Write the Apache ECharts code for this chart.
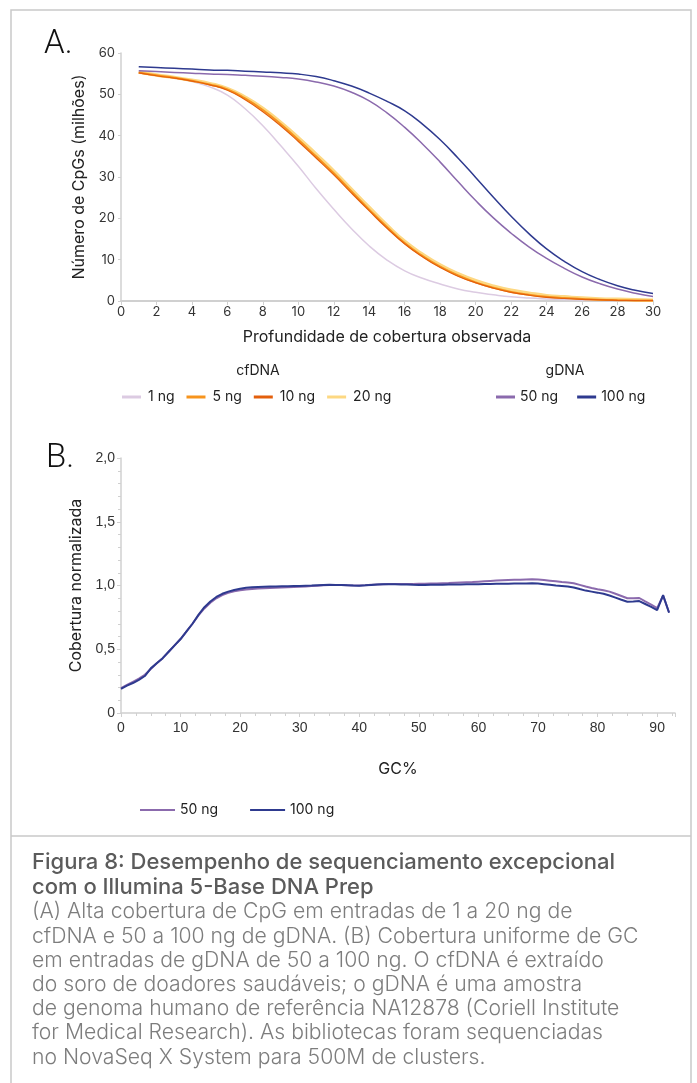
<!DOCTYPE html>
<html>
<head>
<meta charset="utf-8">
<script src="https://cdn.jsdelivr.net/npm/echarts@6/dist/echarts.min.js"></script>
<style>
  html, body { margin: 0; padding: 0; background: #fff; }
  #main { width: 697px; height: 1083px; }
</style>
</head>
<body>
<div id="main"></div>
<script>
// --- painel A: CpGs cobertos vs profundidade observada ---
var depth = [1, 2, 3, 4, 5, 6, 7, 8, 9, 10, 11, 12, 13, 14, 15, 16, 17, 18, 19, 20, 21, 22, 23, 24, 25, 26, 27, 28, 29, 30];
var cf1ng = [55.3, 54.5, 53.9, 53.1, 51.8, 49.8, 46.5, 42.4, 37.6, 32.6, 27.2, 22.2, 17.5, 13.3, 9.9, 7.3, 5.5, 4.1, 2.9, 2.1, 1.5, 1.0, 0.7, 0.5, 0.35, 0.25, 0.17, 0.12, 0.08, 0.05];
var cf5ng = [55.3, 54.6, 54.0, 53.3, 52.4, 51.2, 49.0, 46.2, 42.8, 39.0, 35.0, 30.9, 26.5, 22.1, 17.9, 14.0, 10.9, 8.3, 6.2, 4.5, 3.2, 2.2, 1.5, 1.0, 0.7, 0.5, 0.3, 0.2, 0.15, 0.1];
var cf10ng = [55.2, 54.5, 53.9, 53.2, 52.3, 51.0, 48.7, 45.8, 42.4, 38.6, 34.6, 30.5, 26.1, 21.8, 17.6, 13.8, 10.7, 8.1, 6.0, 4.4, 3.1, 2.1, 1.4, 0.9, 0.6, 0.4, 0.25, 0.15, 0.1, 0.08];
var cf20ng = [55.4, 54.7, 54.1, 53.4, 52.6, 51.4, 49.3, 46.6, 43.2, 39.5, 35.5, 31.4, 27.0, 22.6, 18.3, 14.4, 11.3, 8.7, 6.6, 4.9, 3.6, 2.6, 1.9, 1.3, 1.0, 0.7, 0.5, 0.4, 0.3, 0.2];
var g50ng = [55.7, 55.5, 55.3, 55.1, 54.9, 54.8, 54.6, 54.4, 54.1, 53.7, 53.0, 52.0, 50.5, 48.4, 45.5, 42.0, 38.0, 33.6, 28.9, 24.3, 20.1, 16.4, 13.1, 10.3, 7.9, 5.8, 4.2, 2.9, 1.9, 1.1];
var g100ng = [56.7, 56.5, 56.3, 56.1, 55.9, 55.8, 55.6, 55.4, 55.2, 54.9, 54.3, 53.3, 52.0, 50.3, 48.3, 46.0, 42.8, 39.0, 34.6, 29.9, 25.1, 20.5, 16.3, 12.6, 9.6, 7.1, 5.2, 3.7, 2.6, 1.8];
var depthTicks = [0, 2, 4, 6, 8, 10, 12, 14, 16, 18, 20, 22, 24, 26, 28, 30];
var cpgTicks = [0, 10, 20, 30, 40, 50, 60];

// --- painel B: cobertura normalizada vs GC% (0..92) ---
var cov50ng = [0.195, 0.22, 0.245, 0.27, 0.30, 0.345, 0.39, 0.43, 0.48, 0.53,
  0.58, 0.64, 0.70, 0.765, 0.82, 0.865, 0.90, 0.925, 0.942, 0.954,
  0.963, 0.969, 0.973, 0.976, 0.978, 0.98, 0.982, 0.984, 0.986, 0.988,
  0.99, 0.993, 0.996, 0.999, 1.002, 1.004, 1.004, 1.003, 1.001, 1.0,
  1.0, 1.002, 1.005, 1.008, 1.01, 1.012, 1.012, 1.011, 1.011, 1.012,
  1.013, 1.014, 1.015, 1.016, 1.018, 1.019, 1.021, 1.023, 1.025, 1.027,
  1.03, 1.033, 1.036, 1.039, 1.042, 1.044, 1.045, 1.046, 1.048, 1.049,
  1.047, 1.043, 1.038, 1.033, 1.028, 1.024, 1.018, 1.005, 0.992, 0.98,
  0.97, 0.962, 0.952, 0.935, 0.918, 0.90, 0.90, 0.902, 0.875, 0.85,
  0.822, 0.92, 0.79];
var cov100ng = [0.19, 0.215, 0.235, 0.26, 0.29, 0.35, 0.39, 0.43, 0.48, 0.53,
  0.58, 0.64, 0.70, 0.77, 0.83, 0.875, 0.91, 0.935, 0.952, 0.965,
  0.975, 0.982, 0.986, 0.989, 0.991, 0.992, 0.993, 0.994, 0.995, 0.996,
  0.997, 0.999, 1.0, 1.002, 1.004, 1.005, 1.004, 1.004, 1.002, 1.0,
  0.999, 1.001, 1.004, 1.007, 1.009, 1.01, 1.01, 1.008, 1.007, 1.005,
  1.004, 1.004, 1.005, 1.006, 1.006, 1.007, 1.008, 1.008, 1.009, 1.009,
  1.01, 1.011, 1.012, 1.013, 1.014, 1.014, 1.015, 1.015, 1.016, 1.017,
  1.015, 1.01, 1.005, 1.0, 0.996, 0.992, 0.985, 0.972, 0.96, 0.952,
  0.944, 0.935, 0.922, 0.905, 0.888, 0.873, 0.874, 0.878, 0.855, 0.832,
  0.807, 0.925, 0.786];
var covTicks = ['0', '0,5', '1,0', '1,5', '2,0'];

var captionTitle = ['Figura 8: Desempenho de sequenciamento excepcional', 'com o Illumina 5-Base DNA Prep'];
var captionBody = [
  '(A) Alta cobertura de CpG em entradas de 1 a 20 ng de',
  'cfDNA e 50 a 100 ng de gDNA. (B) Cobertura uniforme de GC',
  'em entradas de gDNA de 50 a 100 ng. O cfDNA é extraído',
  'do soro de doadores saudáveis; o gDNA é uma amostra',
  'de genoma humano de referência NA12878 (Coriell Institute',
  'for Medical Research). As bibliotecas foram sequenciadas',
  'no NovaSeq X System para 500M de clusters.'
];

function pairs(xs, ys) {
  var out = [];
  for (var i = 0; i < ys.length; i++) out.push([xs[i], ys[i]]);
  return out;
}
var gc = [];
for (var i = 0; i < cov50ng.length; i++) gc.push(i);

var font = 'Inter, "Noto Sans", sans-serif';
var axisGray = '#d0d0d0';

var chart = echarts.init(document.getElementById('main'), null, { renderer: 'canvas' });

var graphics = [
  // moldura
  { type: 'polyline', shape: { points: [[11, 1083], [11, 10], [691, 10], [691, 1083]] }, style: { stroke: '#c9c9c9', lineWidth: 1.5, fill: null } },
  { type: 'line', shape: { x1: 11, y1: 836, x2: 691, y2: 836 }, style: { stroke: '#c9c9c9', lineWidth: 1.5 } },
  { type: 'text', left: 44, top: 28, style: { text: 'A.', font: '300 33px Roboto, sans-serif', fill: '#111' } },
  { type: 'text', left: 46, top: 442, style: { text: 'B.', font: '300 33px Roboto, sans-serif', fill: '#111' } },
  { type: 'text', x: 258, y: 371, style: { text: 'cfDNA', font: '14px ' + font, fill: '#222', align: 'center', verticalAlign: 'middle' } },
  { type: 'text', x: 565, y: 371, style: { text: 'gDNA', font: '14px ' + font, fill: '#222', align: 'center', verticalAlign: 'middle' } }
];
captionTitle.forEach(function (t, k) {
  graphics.push({ type: 'text', x: 32, y: 862 + k * 25, style: { text: t, font: '500 22px ' + font, fill: '#5b5b5b', verticalAlign: 'middle' } });
});
captionBody.forEach(function (t, k) {
  graphics.push({ type: 'text', x: 32, y: 912 + k * 24.2, style: { text: t, font: '300 21.2px ' + font, fill: '#7d7d7d', verticalAlign: 'middle' } });
});

var option = {
  animation: false,
  textStyle: { fontFamily: font },
  graphic: graphics,
  legend: [
    {
      left: 117, top: 385, itemWidth: 19, itemHeight: 3, itemGap: 12, icon: 'rect',
      textStyle: { fontSize: 14, color: '#222', padding: [0, 0, 0, 2] },
      data: ['1 ng', '5 ng', '10 ng', '20 ng']
    },
    {
      left: 491, top: 385, itemWidth: 19, itemHeight: 3, itemGap: 19, icon: 'rect',
      textStyle: { fontSize: 14, color: '#222' },
      data: ['50 ng', '100 ng']
    },
    {
      left: 135, top: 798, itemWidth: 35, itemHeight: 2, itemGap: 28, icon: 'rect',
      textStyle: { fontSize: 14, color: '#222' },
      data: ['50 ng ', '100 ng ']
    }
  ],
  grid: [
    { left: 121, top: 53, width: 532, height: 248 },
    { left: 121, top: 458, width: 554, height: 255 }
  ],
  xAxis: [
    {
      gridIndex: 0, type: 'value', min: depthTicks[0], max: depthTicks[depthTicks.length - 1], interval: 2,
      name: 'Profundidade de cobertura observada', nameLocation: 'middle', nameGap: 28,
      nameTextStyle: { fontSize: 16, color: '#222' },
      axisLine: { lineStyle: { color: axisGray, width: 2 } },
      axisTick: { show: true, length: 4, lineStyle: { color: axisGray } },
      axisLabel: { fontSize: 13, color: '#333', margin: 5 },
      splitLine: { show: false }
    },
    {
      gridIndex: 1, type: 'value', min: 0, max: 93, interval: 10,
      name: 'GC%', nameLocation: 'middle', nameGap: 48,
      nameTextStyle: { fontSize: 16, color: '#222' },
      axisLine: { lineStyle: { color: axisGray, width: 1.5 } },
      axisTick: { show: true, length: 4, lineStyle: { color: axisGray } },
      minorTick: { show: true, splitNumber: 4, length: 3, lineStyle: { color: axisGray } },
      axisLabel: { fontSize: 14, color: '#333', margin: 8, showMaxLabel: false, fontFamily: '"Liberation Sans", Arial, sans-serif' },
      splitLine: { show: false }
    }
  ],
  yAxis: [
    {
      gridIndex: 0, type: 'value', min: cpgTicks[0], max: cpgTicks[cpgTicks.length - 1], interval: 10,
      name: 'Número de CpGs (milhões)', nameLocation: 'middle', nameGap: 23,
      nameTextStyle: { fontSize: 16, color: '#222' },
      axisLine: { show: true, lineStyle: { color: axisGray, width: 1.5 } },
      axisTick: { show: true, length: 3, lineStyle: { color: axisGray } },
      axisLabel: { fontSize: 13, color: '#333', margin: 6 },
      splitLine: { show: false }
    },
    {
      gridIndex: 1, type: 'value', min: 0, max: 2, interval: 0.5,
      name: 'Cobertura normalizada', nameLocation: 'middle', nameGap: 21,
      nameTextStyle: { fontSize: 16, color: '#222' },
      axisLine: { show: true, lineStyle: { color: axisGray, width: 1.5 } },
      axisTick: { show: true, length: 4, lineStyle: { color: axisGray } },
      minorTick: { show: true, splitNumber: 5, length: 3, lineStyle: { color: axisGray } },
      axisLabel: {
        fontSize: 14, color: '#333', margin: 6, fontFamily: '"Liberation Sans", Arial, sans-serif',
        formatter: function (v) { return covTicks[Math.round(v / 0.5)]; }
      },
      splitLine: { show: false }
    }
  ],
  series: [
    { name: '1 ng', type: 'line', xAxisIndex: 0, yAxisIndex: 0, smooth: true, showSymbol: false, color: '#dccbe2', lineStyle: { width: 1.5 }, data: pairs(depth, cf1ng) },
    { name: '20 ng', type: 'line', xAxisIndex: 0, yAxisIndex: 0, smooth: true, showSymbol: false, color: '#fdd882', lineStyle: { width: 3.5 }, data: pairs(depth, cf20ng) },
    { name: '5 ng', type: 'line', xAxisIndex: 0, yAxisIndex: 0, smooth: true, showSymbol: false, color: '#f7941d', lineStyle: { width: 2 }, data: pairs(depth, cf5ng) },
    { name: '10 ng', type: 'line', xAxisIndex: 0, yAxisIndex: 0, smooth: true, showSymbol: false, color: '#e35f0c', lineStyle: { width: 1.2 }, data: pairs(depth, cf10ng) },
    { name: '50 ng', type: 'line', xAxisIndex: 0, yAxisIndex: 0, smooth: true, showSymbol: false, color: '#8b6aad', lineStyle: { width: 1.5 }, data: pairs(depth, g50ng) },
    { name: '100 ng', type: 'line', xAxisIndex: 0, yAxisIndex: 0, smooth: true, showSymbol: false, color: '#2e3a8f', lineStyle: { width: 1.5 }, data: pairs(depth, g100ng) },
    { name: '50 ng ', type: 'line', xAxisIndex: 1, yAxisIndex: 1, showSymbol: false, color: '#8b6aad', lineStyle: { width: 2 }, data: pairs(gc, cov50ng) },
    { name: '100 ng ', type: 'line', xAxisIndex: 1, yAxisIndex: 1, showSymbol: false, color: '#2e3a8f', lineStyle: { width: 2 }, data: pairs(gc, cov100ng) }
  ]
};

chart.setOption(option);
</script>
</body>
</html>
